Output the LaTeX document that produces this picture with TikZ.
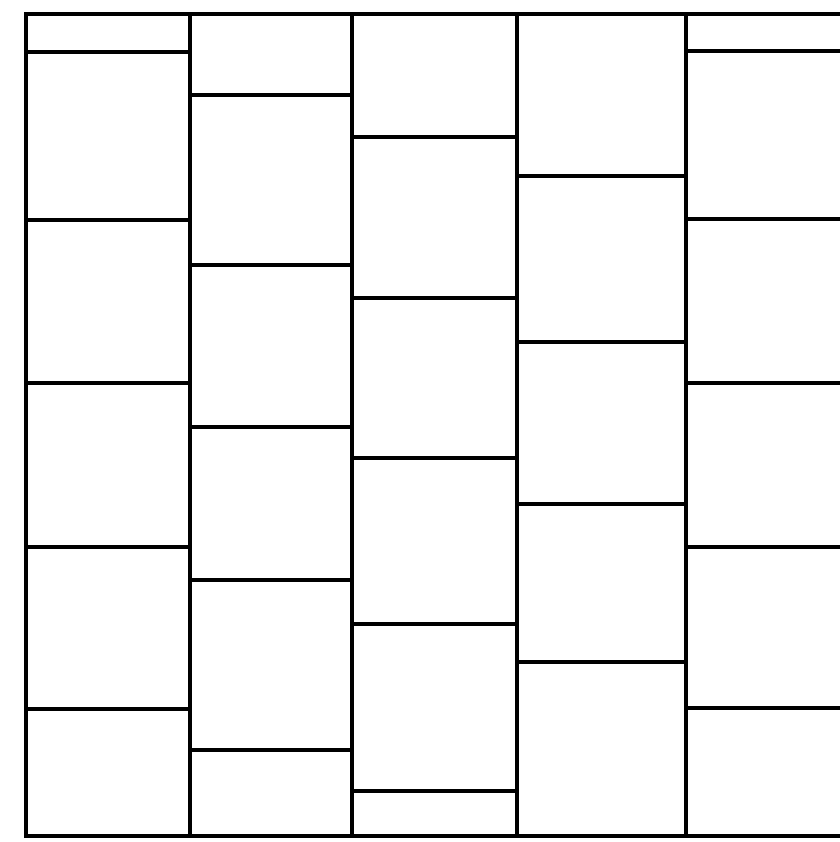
\documentclass[tikz,border=0pt]{standalone}
\usepackage{tikz}
\usetikzlibrary{calc}

\begin{document}
\begin{tikzpicture}[
    x=0.01cm, y=-0.01cm,
    joint/.style={line width=1.2pt, line cap=rect},
    frame/.style={line width=1.4pt, line cap=rect},
]
\useasboundingbox (0,0) rectangle (840,842);

% -- Outer frame ----------------------------
\draw[frame] (840,14) -- (26,14) -- (26,836) -- (840,836);

% -- Column joints --------------------------
\foreach \xc in {190, 352, 517, 686}
    \draw[frame] (\xc,14) -- (\xc,836);

% -- Bed joints (left/right edge : y list) ---
\foreach \xl/\xr/\ylist in {
    26/190/{52,220,383,547,709},
    190/352/{95,265,427,580,750},
    352/517/{137,298,458,624,791},
    517/686/{176,342,504,662},
    686/840/{51,219,383,547,708}}
    \foreach \yb in \ylist
        \draw[joint] (\xl,\yb) -- (\xr,\yb);

\end{tikzpicture}
\end{document}
